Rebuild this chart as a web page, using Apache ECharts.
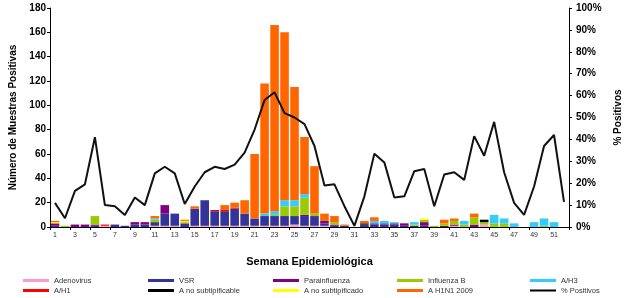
<!DOCTYPE html>
<html>
<head>
<meta charset="utf-8">
<script src="https://cdn.jsdelivr.net/npm/echarts@6/dist/echarts.min.js"></script>
<style>
  html, body { margin: 0; padding: 0; background: #fff; }
  #myCharts { width: 631px; height: 298px; }
</style>
</head>
<body>
<div id="myCharts"></div>
<script>
// semanas epidemiológicas
const weeks = ["1","2","3","4","5","6","7","8","9","10","11","12","13","14","15","16","17","18","19","20",
  "21","22","23","24","25","26","27","28","29","30","31","32","33","34","35","36","37","38","39","40",
  "41","42","43","44","45","46","47","48","49","50","51","52"];

const adenovirus = [0,0,0,0,0,1,0,0,0,0, 1,1,1,0,1,1,1,1,1,1, 1,1,1,1,2,1,1,1,0,0, 0,0,0,0,0,0,0,0,0,0, 1,0,0,2,0,0,0,0,0,0, 0,0];
const vsr = [1,0,0,0,1,0,2,1,2,2, 3,10,10,3,14,21,12,12,14,10, 6,8,8,8,7,8,8,2,1,1, 0,2,2,2,2,1,1,1,0,0, 0,0,0,0,0,0,0,0,0,0, 0,0];
const parainfluenza = [2,0,2,2,1,0,0,0,2,2, 0,7,0,0,0,0,0,0,0,0, 0,0,0,0,0,1,0,2,1,0, 0,0,1,1,1,2,0,3,0,1, 1,0,2,0,0,0,0,0,0,0, 0,0];
const influenzaB = [0,1,0,0,7,0,0,0,0,0, 2,0,0,1,0,0,0,0,0,0, 0,0,1,8,8,14,2,0,2,0, 0,0,0,0,0,0,1,2,1,2, 3,2,6,2,3,3,0,0,0,1, 0,0];
const aH3 = [0,0,0,0,0,0,0,0,0,0, 1,0,0,0,0,0,0,0,0,0, 0,2,3,5,5,3,0,0,0,0, 0,0,2,2,1,0,2,0,0,0, 0,3,0,0,7,4,3,0,4,6, 4,0];
const aH1 = [0,0,0,0,0,1,0,0,0,0, 0,0,0,0,0,0,1,1,1,0, 0,0,0,0,0,0,0,0,0,0, 0,0,0,0,0,0,0,0,0,0, 0,0,0,0,0,0,0,0,0,0, 0,0];
const noSubtipificable = [0,0,0,0,0,0,0,0,0,0, 0,0,0,0,0,0,0,0,0,0, 0,0,0,0,0,0,0,0,0,0, 0,1,0,0,0,0,0,0,0,0, 0,0,0,2,0,0,0,0,0,0, 0,0];
const noSubtipificado = [1,0,0,0,0,0,0,0,0,0, 0,0,0,1,0,0,0,0,0,0, 0,0,0,0,0,0,0,0,0,0, 0,0,0,0,0,0,0,1,0,0, 0,0,0,0,0,0,0,0,0,0, 0,0];
const h1n1 = [1,0,0,0,0,0,0,0,0,0, 2,0,0,1,2,0,0,4,4,11, 53,107,153,138,93,47,39,6,5,1, 0,2,3,0,0,0,0,0,0,3, 2,0,3,0,0,0,0,0,0,0, 0,0];
// % positivos (eje derecho)
const positivos = [11,4,16.5,19.5,41,10,9.5,5.5,13.5,10, 24.5,27.5,24.5,10.5,18.5,25,27.5,26.5,28.5,34,
  44.5,58,61.5,52,50,47,37,19,19.5,9.5, 0.5,14,33.5,29.5,13.5,14,25.5,26.5,9.5,24,
  25,21.5,41.5,32.5,48,25,11,5.5,18.5,37, 42,11.5];

const leftTicks = [0, 180, 20];
const rightTicks = [0, 100, 10];

const myCharts = echarts.init(document.getElementById("myCharts"));

const stacked = [
  ["Adenovirus", adenovirus, "#FF99CC"],
  ["VSR", vsr, "#333399"],
  ["Parainfluenza", parainfluenza, "#800080"],
  ["Influenza B", influenzaB, "#99CC00"],
  ["A/H3", aH3, "#33CCFF"],
  ["A/H1", aH1, "#FF0000"],
  ["A no subtipificable", noSubtipificable, "#000000"],
  ["A no subtipificado", noSubtipificado, "#FFFF00"],
  ["A H1N1 2009", h1n1, "#FF6600"],
];

let series = stacked.map(function (s) {
  return {
    name: s[0],
    type: "bar",
    stack: "total",
    barCategoryGap: "14%",
    itemStyle: { color: s[2] },
    data: s[1],
  };
});
series.push({
  name: "% Positivos",
  type: "line",
  yAxisIndex: 1,
  symbol: "none",
  z: 5,
  itemStyle: { color: "#000" },
  lineStyle: { color: "#111", width: 2 },
  data: positivos,
});

// leyenda: una entrada por componente, 5 columnas x 2 filas
const legendCols = [23, 148, 273, 397, 530];
const legendRows = [276.5, 286.5];
const legendNames = [
  ["Adenovirus", "VSR", "Parainfluenza", "Influenza B", "A/H3"],
  ["A/H1", "A no subtipificable", "A no subtipificado", "A H1N1 2009", "% Positivos"],
];
let legend = [];
legendNames.forEach(function (row, r) {
  row.forEach(function (name, c) {
    legend.push({
      left: legendCols[c],
      top: legendRows[r],
      itemWidth: 26,
      itemHeight: name === "% Positivos" ? 2 : 3,
      itemTextGap: 3,
      padding: 0,
      icon: "rect",
      textStyle: { fontSize: 7.5, color: "#333", fontFamily: "Liberation Sans" },
      data: [name],
    });
  });
});

const axisFont = { color: "#000", fontSize: 10, fontWeight: "bold", fontFamily: "Liberation Sans" };

let option = {
  animation: false,
  backgroundColor: "#fff",
  legend: legend,
  grid: { left: 46, right: 56, top: 8, bottom: 71 },
  xAxis: {
    type: "category",
    data: weeks,
    name: "Semana Epidemiológica",
    nameLocation: "middle",
    nameGap: 29,
    nameTextStyle: { color: "#000", fontSize: 11, fontWeight: "bold", fontFamily: "Liberation Sans" },
    axisLine: { lineStyle: { color: "#000" } },
    axisTick: { show: true, length: 3, lineStyle: { color: "#000" } },
    axisLabel: { interval: 1, margin: 5, fontSize: 7, color: "#333", fontFamily: "Liberation Sans" },
  },
  yAxis: [
    {
      type: "value",
      min: leftTicks[0],
      max: leftTicks[1],
      interval: leftTicks[2],
      name: "Número de Muestras Positivas",
      nameLocation: "middle",
      nameRotate: 90,
      nameGap: 32,
      nameTextStyle: { color: "#000", fontSize: 10, fontWeight: "bold", fontFamily: "Liberation Sans" },
      axisLine: { show: true, lineStyle: { color: "#000" } },
      axisTick: { show: true, length: 3, lineStyle: { color: "#000" } },
      axisLabel: Object.assign({ margin: 4 }, axisFont),
      splitLine: { show: false },
    },
    {
      type: "value",
      min: rightTicks[0],
      max: rightTicks[1],
      interval: rightTicks[2],
      position: "right",
      name: "% Positivos",
      nameLocation: "middle",
      nameRotate: 90,
      nameGap: 44,
      nameTextStyle: { color: "#000", fontSize: 10, fontWeight: "bold", fontFamily: "Liberation Sans" },
      axisLine: { show: true, lineStyle: { color: "#000" } },
      axisTick: { show: true, length: 3, lineStyle: { color: "#000" } },
      axisLabel: Object.assign({ margin: 7, formatter: "{value}%" }, axisFont),
      splitLine: { show: false },
    },
  ],
  series: series,
};

myCharts.setOption(option);
</script>
</body>
</html>
